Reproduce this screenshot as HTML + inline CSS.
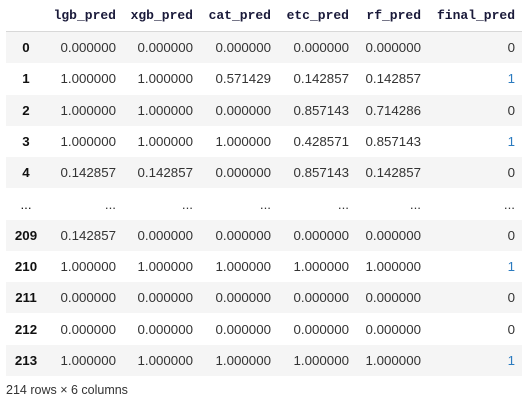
<!DOCTYPE html>
<html><head><meta charset="utf-8"><style>
body{margin:0;width:532px;height:411px;background:#fff;overflow:hidden;font-family:"Liberation Sans","Noto Sans CJK KR",sans-serif;}
.row{position:absolute;left:6px;width:516px;height:31px;}
.g{background:#f5f5f5;}
.c{position:absolute;top:0;line-height:31px;font-size:13.3px;color:#333;white-space:nowrap;}
.h{font-family:"Liberation Mono","NanumGothic",monospace;font-weight:bold;color:#1a1a3a;font-size:13px;}
.idx{font-weight:bold;color:#111;width:40px;text-align:center;left:0;}
.hline{position:absolute;left:6px;width:516px;top:31px;height:1px;background:#d8d8d8;}
.foot{position:absolute;left:6px;top:383px;font-size:12.5px;color:#333;}
</style></head><body>
<div id="t"></div>
<div class="hline"></div>
<div class="foot">214 rows × 6 columns</div>
<script>
const cols=["lgb_pred","xgb_pred","cat_pred","etc_pred","rf_pred","final_pred"];
const idx=["0","1","2","3","4","...","209","210","211","212","213"];
const vals=[
["0.000000","0.000000","0.000000","0.000000","0.000000","0"],
["1.000000","1.000000","0.571429","0.142857","0.142857","1"],
["1.000000","1.000000","0.000000","0.857143","0.714286","0"],
["1.000000","1.000000","1.000000","0.428571","0.857143","1"],
["0.142857","0.142857","0.000000","0.857143","0.142857","0"],
["...","...","...","...","...","..."],
["0.142857","0.000000","0.000000","0.000000","0.000000","0"],
["1.000000","1.000000","1.000000","1.000000","1.000000","1"],
["0.000000","0.000000","0.000000","0.000000","0.000000","0"],
["0.000000","0.000000","0.000000","0.000000","0.000000","0"],
["1.000000","1.000000","1.000000","1.000000","1.000000","1"]];
const rights=[110,187,265,343,415,509];
const t=document.getElementById('t');
function cell(parent,text,right,cls){
  const d=document.createElement('div');
  d.className='c '+cls;
  d.style.right=(516-right)+'px';
  d.textContent=text;
  parent.appendChild(d);return d;
}
const hr=document.createElement('div');
hr.className='row';hr.style.top='0px';


cols.forEach((c,i)=>{const d=cell(hr,c,rights[i],'h');

});
t.appendChild(hr);
idx.forEach((ix,r)=>{
  const row=document.createElement('div');
  row.className='row'+(r%2==0?' g':'');
  row.style.top=(32+r*31.3)+'px';
  
  
  const id=document.createElement('div');
  id.className='c idx';id.textContent=ix;
  if(ix==='...'){id.style.fontWeight='normal';}
  
  
  row.appendChild(id);
  vals[r].forEach((v,i)=>{const d=cell(row,v,rights[i],'');
    if(i===5&&v==='1')d.style.color='#2b7bbf';
    
    });
  t.appendChild(row);
});
</script>
</body></html>
